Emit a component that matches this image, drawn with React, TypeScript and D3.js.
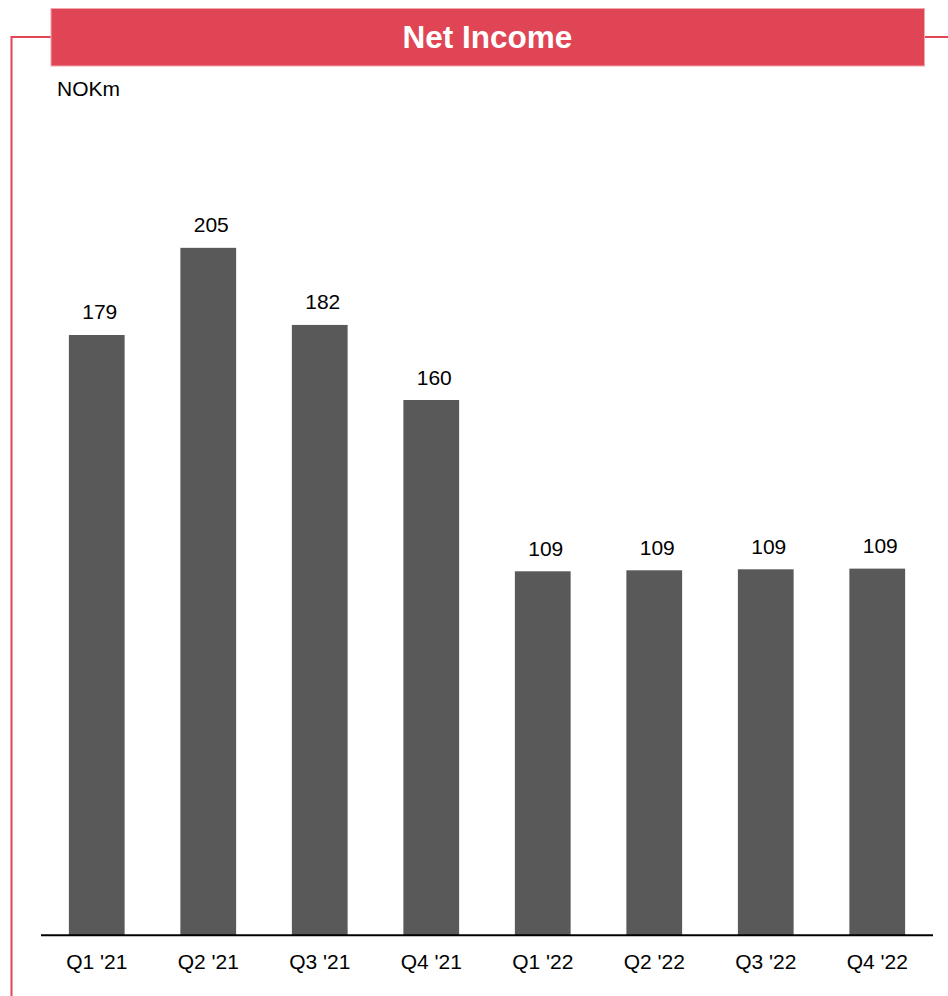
import React from "react";
import * as d3 from "d3";

const categories = ["Q1 '21", "Q2 '21", "Q3 '21", "Q4 '21", "Q1 '22", "Q2 '22", "Q3 '22", "Q4 '22"];
const netIncome = [179, 205, 182, 159.6, 108.5, 108.8, 109.1, 109.3];
const title = "Net Income";
const unitLabel = "NOKm";

const W = 948;
const H = 996;
const RED = "#E04555";
const BAR = "#595959";

export default function App() {
  const x = d3.scaleBand<string>().domain(categories).range([41, 933]).paddingInner(0.5).paddingOuter(0.25);
  const y = d3.scaleLinear().domain([0, 250]).range([935, 935 - 250 * 3.352]);
  const fmt = d3.format(".0f");
  const font = "Liberation Sans, Arial, sans-serif";

  return (
    <svg width={W} height={H} style={{ position: "absolute", left: 0, top: 0, background: "#fff" }} fontFamily={font}>
      {/* frame lines */}
      <path d={`M11.5,996 V37 H51`} fill="none" stroke={RED} strokeWidth={2} />
      <path d={`M924,37 H948`} fill="none" stroke={RED} strokeWidth={2} />
      {/* header */}
      <rect x={51} y={8.5} width={873.5} height={57.5} fill={RED} stroke="#F2A7AE" strokeWidth={1} />
      <text x={487.5} y={48} textAnchor="middle" fill="#fff" fontWeight="bold" fontSize={31.5}>
        {title}
      </text>
      <text x={57} y={96} fontSize={21} fill="#000">
        {unitLabel}
      </text>
      {/* bars */}
      {netIncome.map((v, i) => {
        const c = categories[i];
        const bx = x(c)!;
        return (
          <g key={c}>
            <rect x={bx} y={y(v)} width={x.bandwidth()} height={y(0) - y(v)} fill={BAR} />
            <text x={bx + x.bandwidth() / 2 + 3} y={y(v) - 15.5} textAnchor="middle" fontSize={21} fill="#000">
              {fmt(v)}
            </text>
            <text x={bx + x.bandwidth() / 2} y={969} textAnchor="middle" fontSize={21} fill="#000">
              {c}
            </text>
          </g>
        );
      })}
      {/* axis */}
      <line x1={41} x2={933} y1={935.3} y2={935.3} stroke="#000" strokeWidth={2} />
    </svg>
  );
}
